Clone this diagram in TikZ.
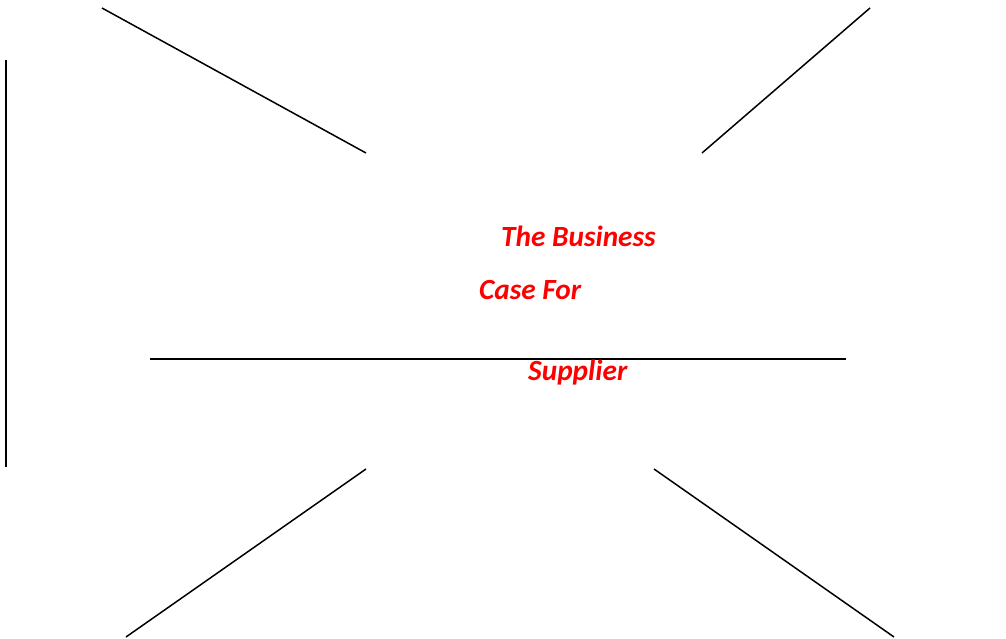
\documentclass[tikz,border=0pt]{standalone}
\usepackage{fontspec}
\setmainfont{Carlito}
\begin{document}
\begin{tikzpicture}[x=1pt,y=-1pt,
  ln/.style={black,line width=1.5pt},
  lbl/.style={anchor=base west,inner sep=0pt,text=red,font=\fontsize{29.3}{31}\selectfont\bfseries\itshape}]
\useasboundingbox (0,0) rectangle (1006,639);
\coordinate (v1) at (6,60); \coordinate (v2) at (6,467);
\coordinate (a1) at (102,8); \coordinate (a2) at (366,153);
\coordinate (b1) at (870,8); \coordinate (b2) at (702,153);
\coordinate (h1) at (150,359); \coordinate (h2) at (846,359);
\coordinate (c1) at (366,469); \coordinate (c2) at (126,637);
\coordinate (d1) at (654,469); \coordinate (d2) at (894,637);
\draw[ln] (v1) -- (v2);
\draw[ln] (a1) -- (a2);
\draw[ln] (b1) -- (b2);
\draw[ln] (h1) -- (h2);
\draw[ln] (c1) -- (c2);
\draw[ln] (d1) -- (d2);
\node[lbl] (t1) at (501,246) {The Business};
\node[lbl] (t2) at (479,299) {Case For};
\node[lbl] (t3) at (528,380) {Supplier};
\end{tikzpicture}
\end{document}
